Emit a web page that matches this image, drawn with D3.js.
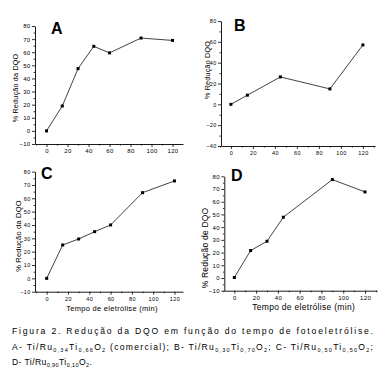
<!DOCTYPE html>
<html>
<head>
<meta charset="utf-8">
<script src="https://cdn.jsdelivr.net/npm/d3@7"></script>
<style>
  body { margin: 0; background: #fff; }
  text { font-family: "Liberation Sans", Arial, sans-serif; fill: #000; }
</style>
</head>
<body>
<svg id="body" width="389" height="380"></svg>
<script>
// tempo de eletrolise (min) x % reducao da DQO
let timeA = [0, 15, 30, 45, 60, 90, 120];
let reducaoA = [0, 19, 47.5, 64.5, 59.5, 70.8, 69];

let timeB = [0, 15, 45, 90, 120];
let reducaoB = [0, 8.8, 26.3, 14.8, 57];

let timeC = [0, 15, 30, 45, 60, 90, 120];
let reducaoC = [0, 25, 29.5, 35, 40, 64.2, 73];

let timeD = [0, 15, 30, 45, 90, 120];
let reducaoD = [0.4, 21.6, 28.9, 47.8, 77.4, 67.7];

let xTicks = [0, 20, 40, 60, 80, 100, 120];
let yTicksA = [-10, 0, 10, 20, 30, 40, 50, 60, 70, 80];
let yTicksB = [-40, -20, 0, 20, 40, 60, 80];

let svg = d3.select("#body");

let panels = [
  {letter: "A", t: timeA, v: reducaoA, yt: yTicksA, ylabel: "% Redução da DQO",
   xd: [-11, 130], xr: [35, 183], yd: [-10, 80], yr: [144, 26],
   lx: 51, ly: 34, tx: 15, ty: 88, fs: 6, tfs: 7.2, xlabel: ""},
  {letter: "B", t: timeB, v: reducaoB, yt: yTicksB, ylabel: "% Redução DQO",
   xd: [-9, 131], xr: [221, 375], yd: [-40, 80], yr: [146, 21],
   lx: 234, ly: 31, tx: 207, ty: 70, fs: 5.5, tfs: 7.2, xlabel: ""},
  {letter: "C", t: timeC, v: reducaoC, yt: yTicksA, ylabel: "% Redução da DQO",
   xd: [-11, 128], xr: [35, 183], yd: [-10, 80], yr: [291.7, 171.6],
   lx: 41, ly: 179, tx: 18, ty: 236, fs: 5.5, tfs: 7.5, xlabel: "Tempo de eletrólise (min)"},
  {letter: "D", t: timeD, v: reducaoD, yt: yTicksA, ylabel: "% Redução de DQO",
   xd: [-9.2, 131], xr: [224.3, 377], yd: [-10, 80], yr: [290.7, 176.3],
   lx: 231, ly: 181, tx: 205, ty: 248, fs: 6, tfs: 8.5, xlabel: "Tempo de eletrólise (min)"}
];

panels.forEach(function(p) {
  let x = d3.scaleLinear().domain(p.xd).range(p.xr);
  let y = d3.scaleLinear().domain(p.yd).range(p.yr);
  let g = svg.append("g");

  let yStep = p.yt[1] - p.yt[0];
  let yMinor = d3.range(p.yd[0] + yStep / 2, p.yd[1], yStep);
  let xMinor = d3.range(-10, p.xd[1], 20);

  // minor ticks
  g.append("g")
    .attr("transform", "translate(0," + p.yr[0] + ")")
    .call(d3.axisBottom(x).tickValues(xMinor).tickSize(1.5).tickSizeOuter(0).tickFormat(""))
    .call(a => a.select(".domain").remove());
  g.append("g")
    .attr("transform", "translate(" + p.xr[0] + ",0)")
    .call(d3.axisLeft(y).tickValues(yMinor).tickSize(1.5).tickSizeOuter(0).tickFormat(""))
    .call(a => a.select(".domain").remove());

  // major axes
  let xa = g.append("g")
    .attr("transform", "translate(0," + p.yr[0] + ")")
    .call(d3.axisBottom(x).tickValues(xTicks).tickSize(3).tickSizeOuter(0).tickPadding(2));
  xa.selectAll("text").attr("font-size", p.fs).attr("letter-spacing", 0.4)
    .style("font-family", "Liberation Sans, Arial");

  let ya = g.append("g")
    .attr("transform", "translate(" + p.xr[0] + ",0)")
    .call(d3.axisLeft(y).tickValues(p.yt).tickSize(3).tickSizeOuter(0).tickPadding(1.5));
  ya.selectAll("text").attr("font-size", p.fs).attr("letter-spacing", 0.3)
    .style("font-family", "Liberation Sans, Arial");

  g.selectAll(".domain").attr("stroke-width", 0.9);
  g.selectAll(".tick line").attr("stroke-width", 0.8);

  // data line + markers
  let pts = p.t.map((d, i) => [d, p.v[i]]);
  g.append("path")
    .datum(pts)
    .attr("fill", "none")
    .attr("stroke", "#111")
    .attr("stroke-width", 0.8)
    .attr("d", d3.line().x(d => x(d[0])).y(d => y(d[1])));

  g.selectAll("rect.pt")
    .data(pts)
    .enter()
    .append("rect")
    .attr("x", d => x(d[0]) - 1.5)
    .attr("y", d => y(d[1]) - 1.5)
    .attr("width", 3)
    .attr("height", 3)
    .attr("fill", "#000");

  // panel letter
  g.append("text")
    .attr("x", p.lx)
    .attr("y", p.ly)
    .attr("font-size", 16)
    .attr("font-weight", "bold")
    .text(p.letter);

  // y title
  g.append("text")
    .attr("transform", "translate(" + p.tx + "," + p.ty + ") rotate(-90)")
    .attr("text-anchor", "middle")
    .attr("dy", "0.35em")
    .attr("font-size", p.tfs)
    .attr("letter-spacing", 0.2)
    .text(p.ylabel);

  // x title (only bottom row)
  g.append("text")
    .attr("x", (p.xr[0] + p.xr[1]) / 2 + 3)
    .attr("y", p.yr[0] + 19)
    .attr("text-anchor", "middle")
    .attr("font-size", p.tfs)
    .attr("letter-spacing", 0.3)
    .text(p.xlabel);
});

// caption
let cap = svg.append("g").attr("font-size", 8.6).attr("fill", "#222");

cap.append("text")
  .attr("x", 12).attr("y", 334)
  .attr("textLength", 361).attr("lengthAdjust", "spacing")
  .text("Figura 2. Redução da DQO em função do tempo de fotoeletrólise.");

function chem(t, parts) {
  parts.forEach(function(s) {
    let ts = t.append("tspan").text(s[0]);
    if (s[1]) ts.attr("font-size", 5.5).attr("dy", 1.5);
    else ts.attr("dy", s[2] ? -1.5 : 0);
  });
}

let l2 = cap.append("text")
  .attr("x", 12).attr("y", 350)
  .attr("textLength", 361).attr("lengthAdjust", "spacing");
chem(l2, [["A-  Ti/Ru"], ["0,34", 1], ["Ti", 0, 1], ["0,66", 1], ["O", 0, 1], ["2", 1],
          [" (comercial);  B-  Ti/Ru", 0, 1], ["0,30", 1], ["Ti", 0, 1], ["0,70", 1], ["O", 0, 1], ["2", 1],
          [";  C-  Ti/Ru", 0, 1], ["0,50", 1], ["Ti", 0, 1], ["0,50", 1], ["O", 0, 1], ["2", 1], [";", 0, 1]]);

let l3 = cap.append("text")
  .attr("x", 12).attr("y", 365)
  .attr("letter-spacing", 0.4);
chem(l3, [["D-  Ti/Ru"], ["0,90", 1], ["Ti", 0, 1], ["0,10", 1], ["O", 0, 1], ["2", 1], [".", 0, 1]]);
</script>
</body>
</html>
